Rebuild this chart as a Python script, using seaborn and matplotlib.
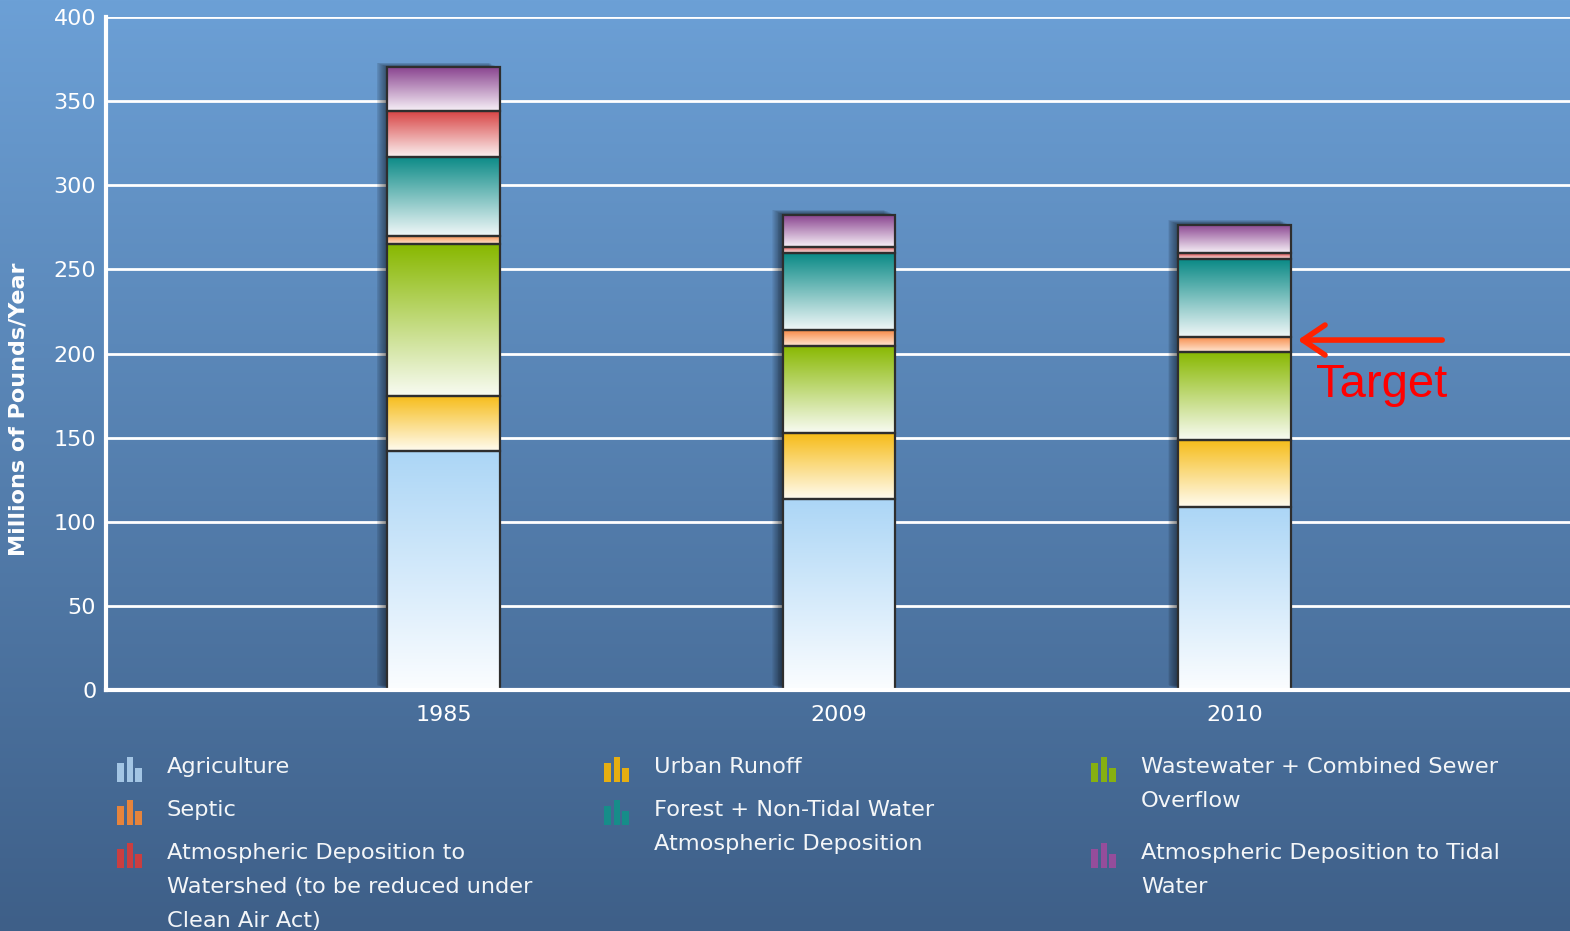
import numpy as np
import pandas as pd
import matplotlib
matplotlib.use("Agg")
import matplotlib.pyplot as plt
import seaborn as sns
from matplotlib.colors import to_rgb
from matplotlib.patches import Rectangle
from matplotlib.transforms import offset_copy

# ---------------- data ----------------
years = ["1985", "2009", "2010"]
agriculture = [142, 113.5, 108.5]
urban_runoff = [33, 39, 40]
wastewater = [90, 52, 52.5]
septic = [5, 9.5, 9]
forest = [47, 45.5, 46]
atm_watershed = [27, 4, 3.5]
atm_tidal = [26, 19, 17]

series_labels = [
    "Agriculture",
    "Urban Runoff",
    "Wastewater + Combined Sewer\nOverflow",
    "Septic",
    "Forest + Non-Tidal Water\nAtmospheric Deposition",
    "Atmospheric Deposition to\nWatershed (to be reduced under\nClean Air Act)",
    "Atmospheric Deposition to Tidal\nWater",
]
series_values = [agriculture, urban_runoff, wastewater, septic, forest,
                 atm_watershed, atm_tidal]
top_colors = ["#acd6f6", "#f6bc18", "#88b800", "#f78a48", "#0a8a86",
              "#d84545", "#8a4590"]
bottom_colors = ["#fbfdff", "#fffbef", "#f8fbf2", "#ffe6d2", "#f0f7f8",
                 "#fbf0f0", "#f7f0f7"]
icon_colors = ["#a9cbe9", "#efb20a", "#8ab50a", "#f08638", "#149089",
               "#d23c3c", "#9a4c9c"]
y_ticks = [0, 50, 100, 150, 200, 250, 300, 350, 400]

# legend layout (pixel positions of first text line: x, y)
legend_pos = [(167, 765), (654, 765), (1141, 765), (167, 808), (654, 808),
              (167, 851), (1141, 851)]

# ---------------- figure ----------------
sns.set_theme(style="white")
plt.rcParams["font.family"] = ["DejaVu Sans"]

W, H = 1570, 931
fig = plt.figure(figsize=(W / 100, H / 100), dpi=100)

# background gradient
bg = fig.add_axes([0, 0, 1, 1], zorder=-10)
t = np.linspace(0, 1, 512)[:, None, None]
ctop = np.array(to_rgb("#6ca0d6"))
cbot = np.array(to_rgb("#3e5f88"))
bg.imshow(ctop * (1 - t) + cbot * t, aspect="auto", extent=[0, 1, 0, 1],
          origin="upper")
bg.set_xlim(0, 1)
bg.set_ylim(0, 1)
bg.axis("off")

ax = fig.add_axes([106 / W, 1 - 690 / H, 1 - 106 / W, (690 - 17) / H])
ax.set_facecolor("none")

bar_w = 112 / 395
bottom = np.zeros(len(years))
layer_patches = []
for vals, ct in zip(series_values, top_colors):
    n0 = len(ax.patches)
    sns.barplot(x=years, y=vals, bottom=bottom, color="white", width=bar_w,
                edgecolor="#2e2e2e", linewidth=1.6, errorbar=None, ax=ax,
                zorder=4)
    layer_patches.append(list(ax.patches[n0:]))
    bottom = bottom + np.array(vals, dtype=float)

# shadows behind the full stacks
for p in layer_patches[-1]:
    x0, w = p.get_x(), p.get_width()
    top = p.get_y() + p.get_height()
    for k in range(1, 13):
        tr = offset_copy(ax.transData, fig=fig, x=-k * 0.9, y=k * 0.4,
                         units="dots")
        ax.add_patch(Rectangle((x0, 0), w, top, transform=tr,
                               facecolor="black", edgecolor="none",
                               alpha=0.05, zorder=2.5))

# gradient fills
for patches, ct, cb in zip(layer_patches, top_colors, bottom_colors):
    c1 = np.array(to_rgb(ct))
    c2 = np.array(to_rgb(cb))
    tt = np.linspace(0, 1, 128)[:, None, None]
    img = c1 * (1 - tt) + c2 * tt
    for p in patches:
        x0, y0, w, h = p.get_x(), p.get_y(), p.get_width(), p.get_height()
        ax.imshow(img, extent=[x0, x0 + w, y0, y0 + h], aspect="auto",
                  origin="upper", zorder=3.5, interpolation="bilinear")
        p.set_facecolor("none")
        p.set_zorder(4)

ax.set_xlim(-0.853, 2.848)
ax.set_ylim(0, 400)
ax.set_yticks(y_ticks)
ax.set_aspect("auto")

ax.yaxis.grid(True, color="white", linewidth=2, zorder=1)
ax.xaxis.grid(False)
ax.set_axisbelow(True)
for s in ["top", "right"]:
    ax.spines[s].set_visible(False)
for s in ["left", "bottom"]:
    ax.spines[s].set_color("white")
    ax.spines[s].set_linewidth(3)
    ax.spines[s].set_zorder(5)

ax.tick_params(axis="y", length=0, labelsize=16, labelcolor="white", pad=7)
ax.tick_params(axis="x", length=0, labelsize=16, labelcolor="white", pad=11)
ax.set_xlabel("")
ax.set_ylabel("Millions of Pounds/Year", color="white", fontsize=16,
              fontweight="bold")
ax.yaxis.set_label_coords(-0.053, 0.4175)

# annotation
ax.annotate("", xy=(2.16, 208), xytext=(2.525, 208),
            arrowprops=dict(arrowstyle="->,head_length=0.4,head_width=0.27",
                            color="#ff2200", lw=4, mutation_scale=40,
                            shrinkA=0, shrinkB=0), zorder=6)
ax.text(2.205, 181, "Target", color="#ff0000", fontsize=34,
        family=["Liberation Sans", "DejaVu Sans"], ha="left", va="center",
        zorder=6)

# legend (manual)
def fx(px):
    return px / W

def fy(py):
    return 1 - py / H

icon_bars = [(-50, 7, 19), (-40.5, 6.5, 25.5), (-32, 7, 14.5)]
for lab, (tx, ty), ic in zip(series_labels, legend_pos, icon_colors):
    for k, line in enumerate(lab.split("\n")):
        fig.text(fx(tx), fy(ty + 2 + k * 34), line, color="#f4f6f8",
                 fontsize=16.2, ha="left", va="center")
    base = ty + 17
    for dx, bw, bh in icon_bars:
        fig.add_artist(Rectangle((fx(tx + dx), fy(base)), bw / W, bh / H,
                                 transform=fig.transFigure, facecolor=ic,
                                 edgecolor="none", alpha=0.95))

fig.savefig("out.png", dpi=100)
